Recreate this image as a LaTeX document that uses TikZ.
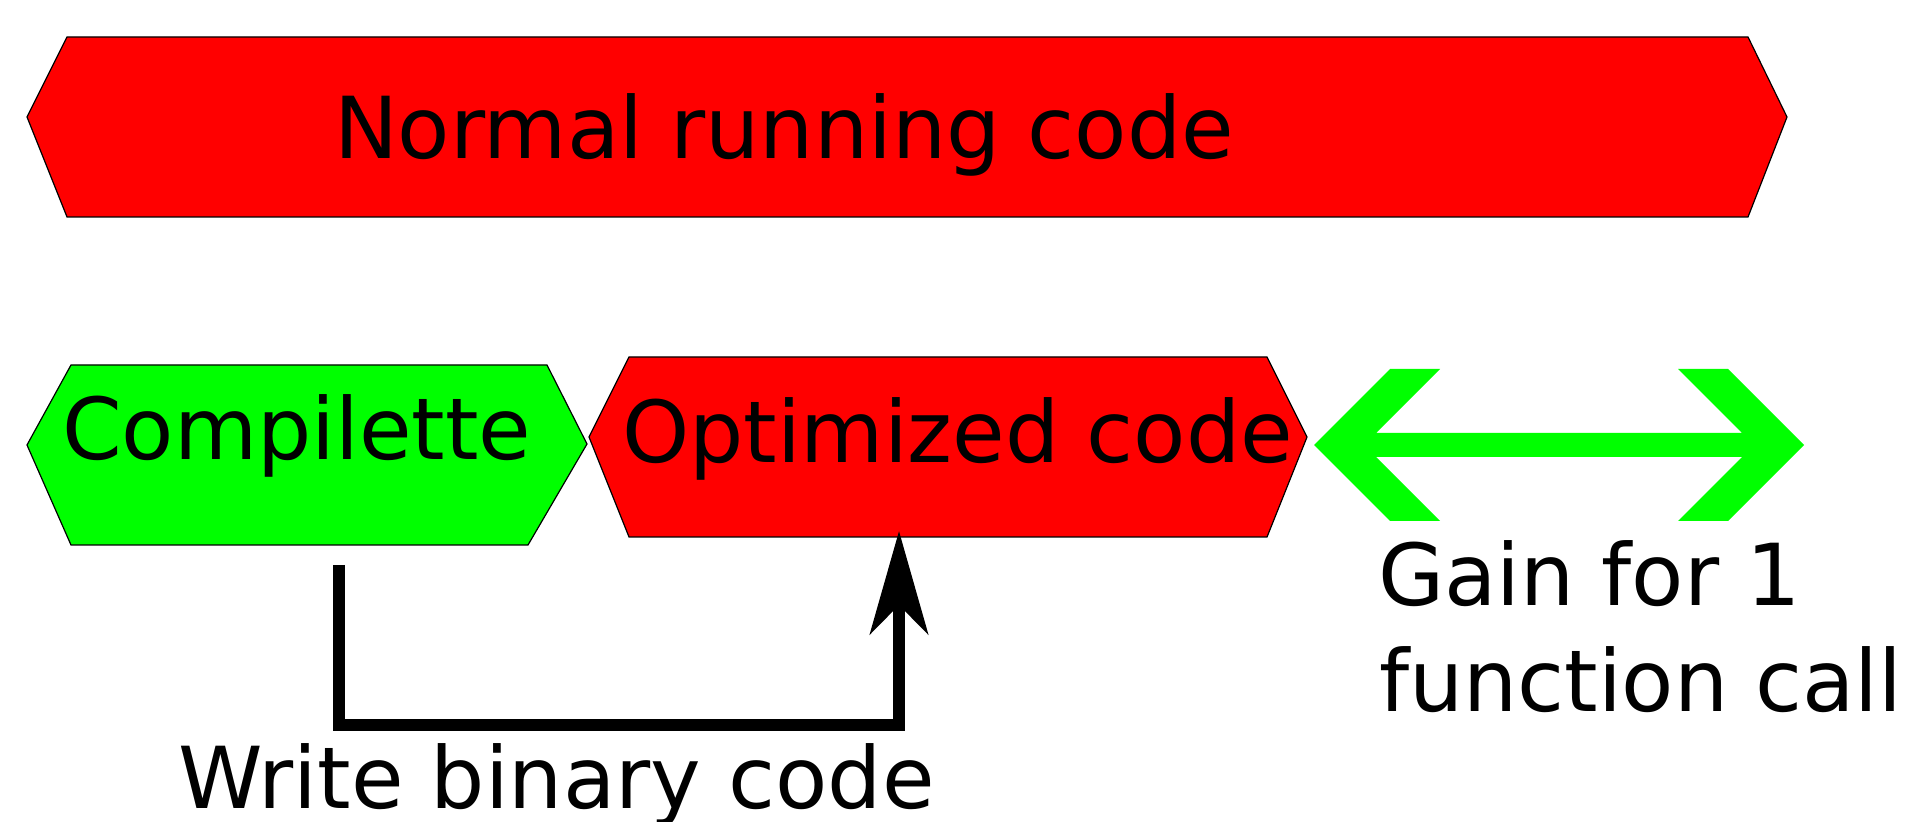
\documentclass[tikz,border=0pt]{standalone}
\usepackage{fontspec}
\setmainfont{DejaVu Sans}
\usetikzlibrary{arrows.meta}
\definecolor{boxred}{RGB}{255,0,0}
\definecolor{boxgreen}{RGB}{0,255,0}
\begin{document}
\begin{tikzpicture}[x=0.5pt,y=-0.5pt,
  hexa/.style={draw=black,line width=0.6pt,line join=miter},
  lbl/.style={inner sep=0pt,outer sep=0pt,anchor=base west,font=\fontsize{42.75pt}{53pt}\selectfont},
  flow/.style={line width=6pt,line join=miter,line cap=butt,-{Stealth[length=51.5pt,width=29pt,inset=14.5pt]}},
  gain/.style={fill=boxgreen,draw=none}]
\useasboundingbox (0,0) rectangle (1908,822);
% top box
\draw[hexa,fill=boxred] (27,117) -- (67,37) -- (1748,37) -- (1787,117) -- (1748,217) -- (67,217) -- cycle;
\node[lbl] (normal) at (334,159) {Normal running code};
% compilette
\draw[hexa,fill=boxgreen] (27,445) -- (71,365) -- (547,365) -- (587,444) -- (528,545) -- (71,545) -- cycle;
\node[lbl] (comp) at (62,460) {Compilette};
% optimized
\draw[hexa,fill=boxred] (589,437) -- (629,357) -- (1267,357) -- (1307,437) -- (1267,537) -- (629,537) -- cycle;
\node[lbl] (opt) at (622,463) {Optimized code};
% double arrow
\path[gain] (1314,445) -- (1390,369) -- (1440,369) -- (1376,433) -- (1742,433) -- (1678,369) -- (1728,369)
  -- (1804,445) -- (1728,521) -- (1678,521) -- (1742,457) -- (1376,457) -- (1440,521) -- (1390,521) -- cycle;
\node[lbl] (gain1) at (1378,606) {Gain for 1};
\node[lbl] (gain2) at (1379,712) {function call};
% write arrow
\coordinate (wstart) at (339,565);
\coordinate (wcorner) at (339,725);
\coordinate (optbot) at (899,531);
\draw[flow] (wstart) -- (wcorner) -| (optbot);
\node[lbl] (write) at (178,809) {Write binary code};
\end{tikzpicture}
\end{document}
